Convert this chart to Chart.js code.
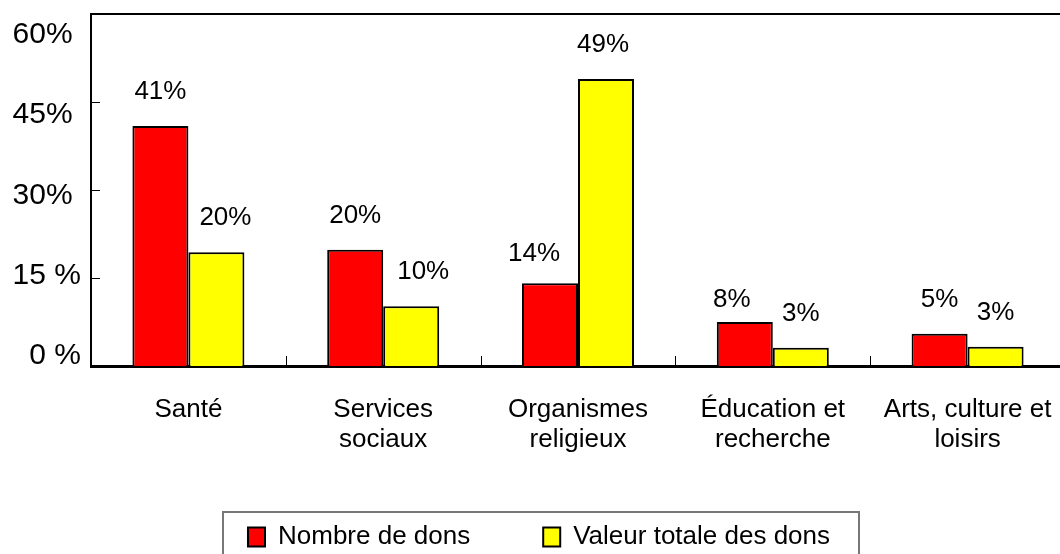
<!DOCTYPE html>
<html>
<head>
<meta charset="utf-8">
<script src="https://cdn.jsdelivr.net/npm/chart.js@4/dist/chart.umd.min.js"></script>
<style>
html, body { margin: 0; padding: 0; background: #fff; overflow: hidden; }
#wrap { width: 1060px; height: 554px; overflow: hidden; }
canvas { display: block; }
</style>
</head>
<body>
<div id="wrap"><canvas id="myChart" width="1070" height="554"></canvas></div>
<script>
// categories on the x axis
var categories = ['Santé', ['Services', 'sociaux'], ['Organismes', 'religieux'], ['Éducation et', 'recherche'], ['Arts, culture et', 'loisirs']];

// share of the number of donations (%)
var nombreDons = [40.9, 19.8, 14.1, 7.5, 5.5];
var nombreLabels = ['41%', '20%', '14%', '8%', '5%'];

// share of the total value of donations (%)
var valeurDons = [19.4, 10.2, 48.9, 3.1, 3.3];
var valeurLabels = ['20%', '10%', '49%', '3%', '3%'];

// y axis ticks
var yTicks = [0, 15, 30, 45, 60];
var yTickLabels = ['0 %', '15 %', '30% ', '45% ', '60% '];

var FONT = '"Liberation Sans", Arial, sans-serif';
Chart.defaults.font.family = FONT;
Chart.defaults.color = '#000';

// small nudges for the value labels, [dx, dy]
var labelNudge = [
    [[0, 0], [0, 0], [-16, 5], [-13, 12], [0, 0]],
    [[9, 0], [12, 0], [-3, 0], [0, 0], [0, 0]]
];

var barLabels = {
    id: 'barLabels',
    afterDatasetsDraw: function (chart) {
        var ctx = chart.ctx;
        ctx.save();
        ctx.font = '26px ' + FONT;
        ctx.fillStyle = '#000';
        ctx.textAlign = 'center';
        ctx.textBaseline = 'middle';
        chart.data.datasets.forEach(function (ds, i) {
            chart.getDatasetMeta(i).data.forEach(function (bar, j) {
                var n = labelNudge[i][j];
                ctx.fillText(ds.valueLabels[j], bar.x + n[0], bar.y - 34 + n[1]);
            });
        });
        ctx.restore();
    }
};

// pull the legend up a little, closer to the axis labels
var legendShift = {
    id: 'legendShift',
    afterLayout: function (chart) {
        if (chart.legend) {
            chart.legend.top -= 5;
            chart.legend.bottom -= 5;
        }
    }
};

// top border, inward tick marks and the box round the legend
var frame = {
    id: 'frame',
    afterDraw: function (chart) {
        var a = chart.chartArea, ctx = chart.ctx;
        var ys = chart.scales.y, xs = chart.scales.x;
        ctx.save();
        ctx.strokeStyle = '#000';
        ctx.lineWidth = 2;
        ctx.beginPath();
        ctx.moveTo(a.left - 1, a.top);
        ctx.lineTo(chart.width, a.top);
        ctx.stroke();

        ctx.lineWidth = 1;
        ctx.beginPath();
        yTicks.forEach(function (v) {
            var py = Math.round(ys.getPixelForValue(v)) + 0.5;
            ctx.moveTo(a.left, py);
            ctx.lineTo(a.left + 9, py);
        });
        for (var k = 1; k < categories.length; k++) {
            var px = Math.round((xs.getPixelForValue(k - 1) + xs.getPixelForValue(k)) / 2) + 0.5;
            ctx.moveTo(px, a.bottom);
            ctx.lineTo(px, a.bottom - 10);
        }
        ctx.stroke();

        var hb = chart.legend.legendHitBoxes;
        if (hb && hb.length > 1) {
            var l = hb[0].left - 25, t = hb[0].top - 12;
            var r = hb[1].left + hb[1].width + 29;
            ctx.strokeStyle = '#777';
            ctx.lineWidth = 2;
            ctx.strokeRect(l, t, r - l, 100);
        }
        ctx.restore();
    }
};

var ctx = document.getElementById('myChart').getContext('2d');
var chart = new Chart(ctx, {
    type: 'bar',
    data: {
        labels: categories,
        datasets: [{
            label: 'Nombre de dons',
            data: nombreDons,
            valueLabels: nombreLabels,
            backgroundColor: '#ff0000',
            borderColor: '#000',
            borderWidth: 2
        }, {
            label: 'Valeur totale des dons',
            data: valeurDons,
            valueLabels: valeurLabels,
            backgroundColor: '#ffff00',
            borderColor: '#000',
            borderWidth: 2
        }]
    },
    options: {
        responsive: false,
        animation: false,
        devicePixelRatio: 1,
        layout: { padding: { left: 13, right: 5, top: 14, bottom: 0 } },
        datasets: {
            bar: { barPercentage: 1, categoryPercentage: 0.575 }
        },
        scales: {
            x: {
                grid: { display: false, drawTicks: false },
                border: { display: true, color: '#000', width: 3 },
                ticks: {
                    font: { size: 26, lineHeight: 30 / 26 },
                    padding: 29,
                    maxRotation: 0,
                    autoSkip: false
                },
                afterFit: function (scale) {
                    scale.height = 90;
                    scale.paddingLeft = 0;
                    scale.paddingRight = 0;
                }
            },
            y: {
                display: false,
                min: 0,
                max: 60
            },
            yl: {
                position: 'left',
                min: -1.97,
                max: 63.93,
                grid: { display: false, drawTicks: false },
                border: { display: true, color: '#000', width: 2 },
                ticks: {
                    font: { size: 30 },
                    padding: 10,
                    callback: function (value) {
                        return yTickLabels[yTicks.indexOf(value)];
                    }
                },
                afterBuildTicks: function (scale) {
                    scale.ticks = yTicks.map(function (v) { return { value: v }; });
                },
                afterFit: function (scale) {
                    scale.width = 78;
                    scale.paddingTop = 0;
                    scale.paddingBottom = 0;
                }
            }
        },
        plugins: {
            tooltip: { enabled: false },
            legend: {
                position: 'bottom',
                align: 'center',
                maxHeight: 98,
                labels: {
                    font: { size: 26 },
                    boxWidth: 17,
                    boxHeight: 19,
                    padding: 73,
                    color: '#000'
                }
            }
        }
    },
    plugins: [barLabels, legendShift, frame]
});
</script>
</body>
</html>
